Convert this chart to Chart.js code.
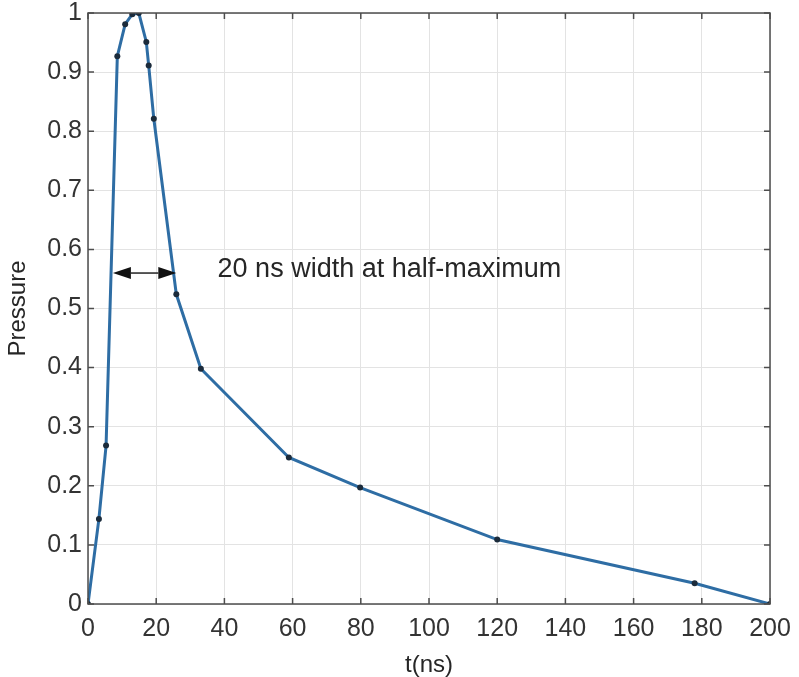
<!DOCTYPE html>
<html>
<head>
<meta charset="utf-8">
<script src="https://cdn.jsdelivr.net/npm/chart.js@4"></script>
<style>
  html, body { margin: 0; padding: 0; background: #fff; }
  #wrap { width: 799px; height: 677px; }
</style>
</head>
<body>
<div id="wrap"><canvas id="pulseChart"></canvas></div>
<script>
// time (ns) and normalised pressure
const timeNs = [0, 3.2, 5.3, 8.6, 10.9, 13.0, 14.9, 17.1, 17.8, 19.3, 25.9, 33.1, 58.9, 79.8, 120, 177.9, 200];
const pressure = [0, 0.144, 0.268, 0.927, 0.981, 0.998, 1.0, 0.951, 0.911, 0.821, 0.524, 0.398, 0.248, 0.197, 0.109, 0.035, 0];

const xTicks = [0, 20, 40, 60, 80, 100, 120, 140, 160, 180, 200];
const yTicks = [0, 0.1, 0.2, 0.3, 0.4, 0.5, 0.6, 0.7, 0.8, 0.9, 1];
const yTickLabels = ['0', '0.1', '0.2', '0.3', '0.4', '0.5', '0.6', '0.7', '0.8', '0.9', '1'];

// half-maximum arrow and its label
const fwhmX = [7.3, 25.9];
const fwhmY = 0.56;
const fwhmText = '20 ns width at half-maximum';
const fwhmTextPos = [38, 0.566];

const tickFont = { family: 'Liberation Sans, Arial, sans-serif', size: 25, lineHeight: 1 };
const titleFont = { family: 'Liberation Sans, Arial, sans-serif', size: 24, lineHeight: 1 };

// box around the plot with small inward ticks, like MATLAB
const boxPlugin = {
    id: 'matlabBox',
    afterDatasetsDraw(chart) {
        const { ctx, chartArea: { left, right, top, bottom }, scales: { x, y } } = chart;
        ctx.save();
        ctx.strokeStyle = '#4d4d4d';
        ctx.lineWidth = 1.5;
        ctx.strokeRect(left, top, right - left, bottom - top);
        ctx.beginPath();
        xTicks.forEach(v => {
            const px = x.getPixelForValue(v);
            ctx.moveTo(px, bottom); ctx.lineTo(px, bottom - 6);
            ctx.moveTo(px, top); ctx.lineTo(px, top + 6);
        });
        yTicks.forEach(v => {
            const py = y.getPixelForValue(v);
            ctx.moveTo(left, py); ctx.lineTo(left + 6, py);
            ctx.moveTo(right, py); ctx.lineTo(right - 6, py);
        });
        ctx.stroke();
        ctx.restore();
    }
};

const arrowPlugin = {
    id: 'fwhmArrow',
    afterDatasetsDraw(chart) {
        const { ctx, scales: { x, y } } = chart;
        const x1 = x.getPixelForValue(fwhmX[0]);
        const x2 = x.getPixelForValue(fwhmX[1]);
        const py = y.getPixelForValue(fwhmY);
        const head = 18, half = 6;
        ctx.save();
        ctx.strokeStyle = '#222';
        ctx.fillStyle = '#111';
        ctx.lineWidth = 1.5;
        ctx.beginPath();
        ctx.moveTo(x1 + head, py); ctx.lineTo(x2 - head, py);
        ctx.stroke();
        ctx.beginPath();
        ctx.moveTo(x1, py); ctx.lineTo(x1 + head, py - half); ctx.lineTo(x1 + head, py + half); ctx.closePath();
        ctx.moveTo(x2, py); ctx.lineTo(x2 - head, py - half); ctx.lineTo(x2 - head, py + half); ctx.closePath();
        ctx.fill();

        ctx.font = '27px Liberation Sans, Arial, sans-serif';
        ctx.fillStyle = '#262626';
        ctx.textAlign = 'left';
        ctx.textBaseline = 'middle';
        ctx.fillText(fwhmText, x.getPixelForValue(fwhmTextPos[0]), y.getPixelForValue(fwhmTextPos[1]));
        ctx.restore();
    }
};

new Chart(document.getElementById('pulseChart'), {
    type: 'line',
    data: {
        datasets: [{
            data: timeNs.map((t, i) => ({ x: t, y: pressure[i] })),
            borderColor: '#2e6da4',
            borderWidth: 3,
            pointRadius: 3,
            pointBackgroundColor: '#1b2b3b',
            pointBorderColor: '#1b2b3b',
            pointBorderWidth: 0,
            tension: 0
        }]
    },
    options: {
        responsive: true,
        maintainAspectRatio: false,
        animation: false,
        layout: { padding: { top: 13, right: 29, left: 0, bottom: 0 } },
        plugins: {
            legend: { display: false },
            tooltip: { enabled: false }
        },
        scales: {
            x: {
                type: 'linear',
                min: 0,
                max: 200,
                afterBuildTicks: s => { s.ticks = xTicks.map(v => ({ value: v })); },
                afterFit: s => { s.height = 73; s.paddingLeft = 0; s.paddingRight = 0; },
                grid: { color: '#e3e3e3', lineWidth: 1, drawTicks: false },
                border: { display: false },
                ticks: { font: tickFont, color: '#333', padding: 13, maxRotation: 0 },
                title: { display: true, text: 't(ns)', font: titleFont, color: '#262626', padding: { top: 6, bottom: 0 } }
            },
            y: {
                type: 'linear',
                min: 0,
                max: 1,
                afterBuildTicks: s => { s.ticks = yTicks.map(v => ({ value: v })); },
                afterFit: s => { s.width = 88; s.paddingTop = 0; s.paddingBottom = 0; },
                grid: { color: '#e3e3e3', lineWidth: 1, drawTicks: false },
                border: { display: false },
                ticks: {
                    font: tickFont,
                    color: '#333',
                    padding: 6,
                    callback: (v, i) => yTickLabels[i]
                },
                title: { display: true, text: 'Pressure', font: titleFont, color: '#262626', padding: { top: 6, bottom: 0 } }
            }
        }
    },
    plugins: [boxPlugin, arrowPlugin]
});
</script>
</body>
</html>
